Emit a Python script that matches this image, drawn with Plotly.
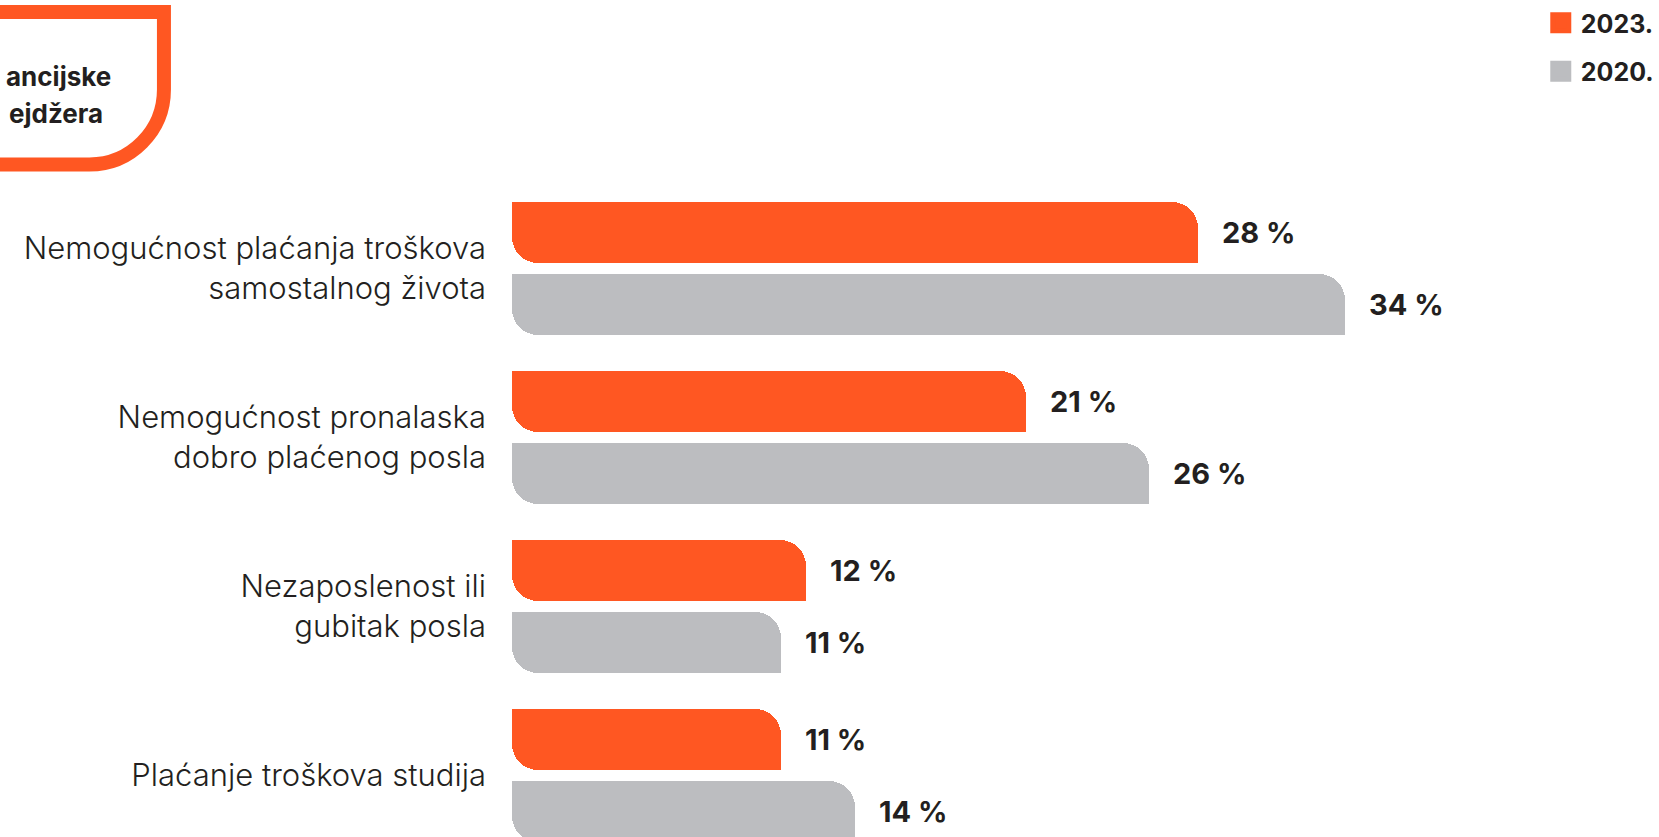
import plotly.graph_objects as go

# ---------------- data ----------------
categories = [
    "Nemogućnost plaćanja troškova<br>samostalnog života",
    "Nemogućnost pronalaska<br>dobro plaćenog posla",
    "Nezaposlenost ili<br>gubitak posla",
    "Plaćanje troškova studija",
]
values_2023 = [28, 21, 12, 11]
values_2020 = [34, 26, 11, 14]
series_names = ["2023.", "2020."]
title_lines = ["ancijske", "ejdžera"]

# ---------------- style ----------------
ORANGE = "#FF5722"
GREY = "#BCBDC0"
TEXT = "#231F20"
FONT = "Inter"

W, H = 1659, 837
ML = 512                      # left edge of bars (px)
PX_PER_UNIT = 24.66           # px per percentage point
X_MAX = (W - ML) / PX_PER_UNIT
CAT_PX = 169                  # px between category centres
C0 = 268.5                    # px of first category centre
y_top = -C0 / CAT_PX
y_bot = (H - C0) / CAT_PX

BAR_PX = 61
GAP_PX = 11
RADIUS_PX = 26
bar_w = BAR_PX / CAT_PX
half_gap = GAP_PX / 2 / CAT_PX
rad_w = RADIUS_PX / CAT_PX

series = [
    (series_names[0], values_2023, ORANGE, -half_gap - bar_w),
    (series_names[1], values_2020, GREY, half_gap),
]

fig = go.Figure()
annotations = []
for name, vals, col, top in series:
    bottom = top + bar_w
    # full bar, all corners rounded
    fig.add_trace(go.Bar(
        y=categories, x=vals, base=0, orientation="h",
        width=bar_w, offset=top,
        marker=dict(color=col, line=dict(width=0), cornerradius=RADIUS_PX),
        showlegend=False, hoverinfo="skip",
    ))
    # square top-left corner (left part of bar, upper region)
    fig.add_trace(go.Bar(
        y=categories, x=[v * 0.6 for v in vals], base=0, orientation="h",
        width=bar_w - rad_w, offset=top,
        marker=dict(color=col, line=dict(width=0)),
        showlegend=False, hoverinfo="skip",
    ))
    # square bottom-right corner (right part of bar, lower region)
    fig.add_trace(go.Bar(
        y=categories, x=[v * 0.6 for v in vals], base=[v * 0.4 for v in vals], orientation="h",
        width=bar_w - rad_w, offset=top + rad_w,
        marker=dict(color=col, line=dict(width=0)),
        showlegend=False, hoverinfo="skip",
    ))
    # legend entry
    fig.add_trace(go.Scatter(
        x=[None], y=[None], mode="markers", name=name, legendgroup=name,
        marker=dict(symbol="square", size=16, color=col, line=dict(color=col, width=5)),
    ))
    for i, v in enumerate(vals):
        annotations.append(dict(
            x=v, y=i + (top + bottom) / 2, xref="x", yref="y",
            text=f"{v} %", showarrow=False, xanchor="left", yanchor="middle",
            xshift=22, font=dict(family=FONT, size=29, color=TEXT, weight=700),
        ))

# title box (cropped) at top-left, built in px then converted to paper coords
PW = W - ML
def px2paper(px, py):
    return (px - ML) / PW, 1 - py / H

k = 0.5523
r = 75
xr, yt, yb = 161.5, 12, 164.5
pts = [
    ("M", [(-30, yt)]),
    ("L", [(xr, yt)]),
    ("L", [(xr, yb - r)]),
    ("C", [(xr, yb - r + k * r), (xr - r + k * r, yb), (xr - r, yb)]),
    ("L", [(-30, yb)]),
]
path = ""
for cmd, plist in pts:
    path += cmd + " " + " ".join(f"{px2paper(a, b)[0]:.6f},{px2paper(a, b)[1]:.6f}" for a, b in plist) + " "

shapes = [dict(type="path", xref="paper", yref="paper", path=path.strip(),
               line=dict(color=ORANGE, width=14), fillcolor="rgba(0,0,0,0)", layer="above")]

for txt, (rx, cy) in zip(title_lines, [(110, 76), (102, 114)]):
    px_, py_ = px2paper(rx, cy)
    annotations.append(dict(
        x=px_, y=py_, xref="paper", yref="paper", text=txt, showarrow=False,
        xanchor="right", yanchor="middle",
        font=dict(family=FONT, size=26, color=TEXT, weight=700),
    ))

fig.update_layout(
    width=W, height=H,
    margin=dict(l=ML, r=0, t=0, b=0, pad=0),
    paper_bgcolor="white", plot_bgcolor="white",
    barmode="overlay", bargap=0,
    xaxis=dict(range=[0, X_MAX], visible=False, fixedrange=True),
    yaxis=dict(
        type="category", categoryorder="array", categoryarray=categories,
        range=[y_bot, y_top], showgrid=False, zeroline=False, showline=False,
        ticks="", ticklabelstandoff=25,
        tickfont=dict(family=FONT, size=31, color=TEXT, weight=300),
        fixedrange=True,
    ),
    legend=dict(
        x=(1548 - ML) / PW, y=1, xanchor="left", yanchor="top",
        font=dict(family=FONT, size=25, color=TEXT, weight=700),
        bgcolor="rgba(0,0,0,0)", tracegroupgap=13, traceorder="grouped",
    ),
    shapes=shapes,
    annotations=annotations,
)

fig.write_html("out.html", config={"displayModeBar": False},
               post_script="document.body.style.margin='0';")
